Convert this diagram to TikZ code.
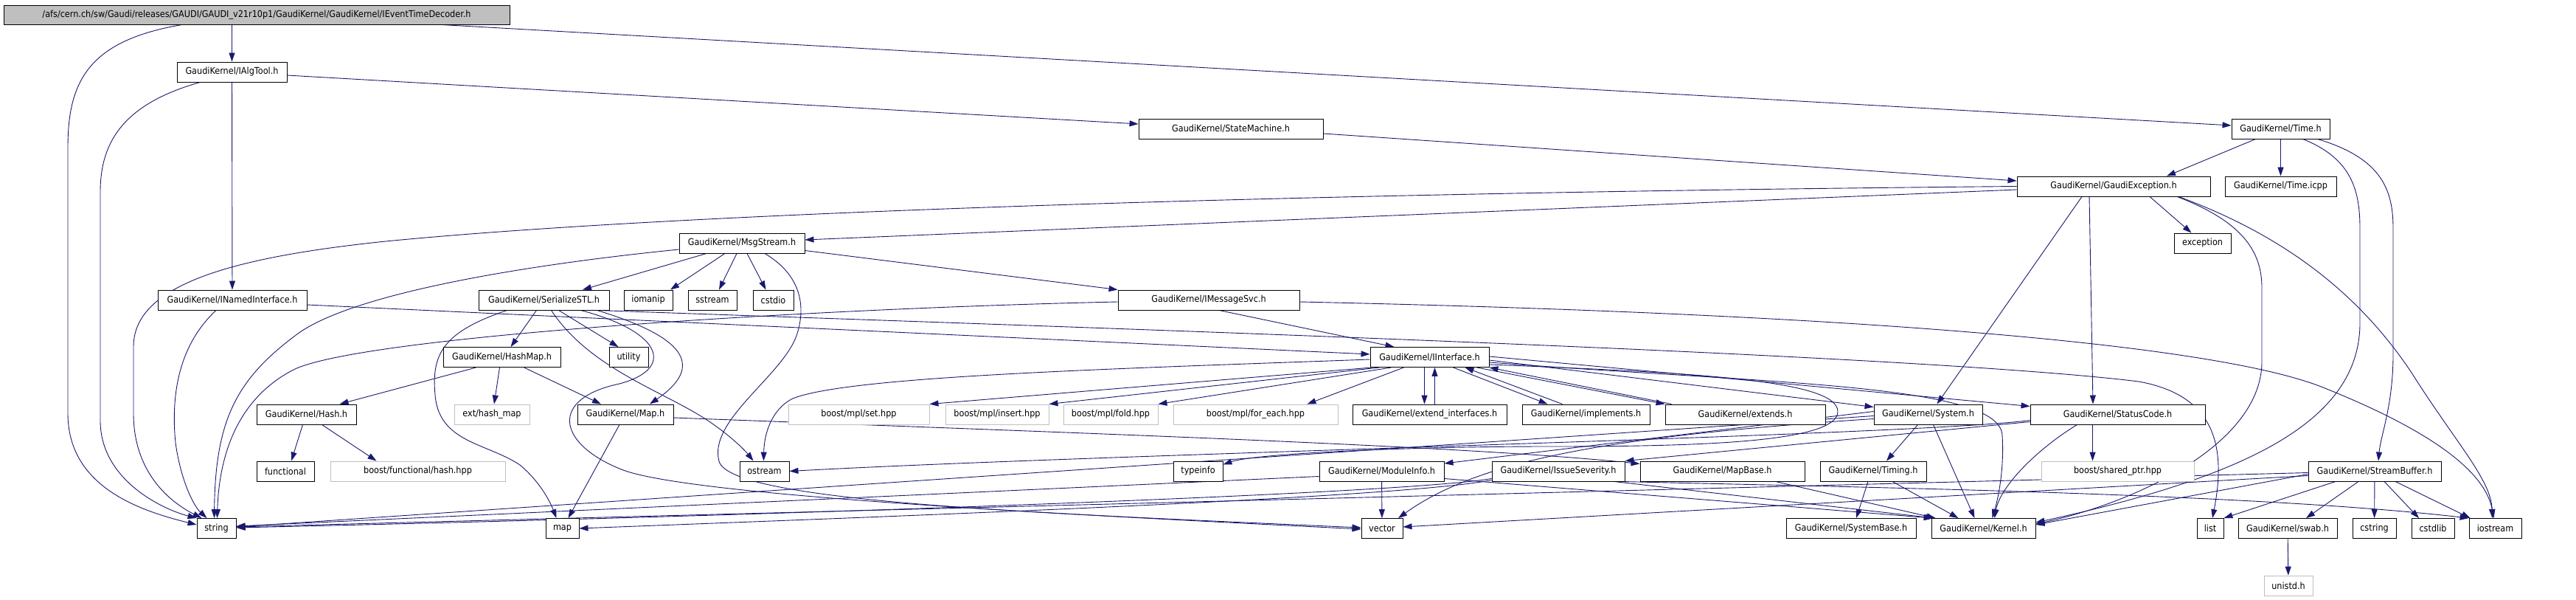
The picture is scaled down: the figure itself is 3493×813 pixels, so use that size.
\documentclass[tikz,border=0pt]{standalone}
\usepackage{fontspec}
\setmainfont[FakeStretch=0.9]{DejaVu Sans}
\usetikzlibrary{arrows.meta}
\definecolor{edgec}{HTML}{191970}
\definecolor{grayb}{HTML}{BFBFBF}
\pgfdeclarelayer{bg}
\pgfsetlayers{bg,main}
\begin{document}
\begin{tikzpicture}[x=1pt,y=-1pt,
 box/.style={draw=black, line width=0.9pt, fill=white, minimum height=27pt, inner sep=0pt, font=\fontsize{12.5}{14}\selectfont},
 gbox/.style={box, draw=grayb},
 e/.style={draw=edgec, line width=0.9pt, -{Triangle[length=12pt,width=8pt]}}]
\useasboundingbox (0,0) rectangle (3493,813);
% nodes
\node[box, fill=grayb, minimum width=686pt, minimum height=26pt] (root) at (348,20) {/afs/cern.ch/sw/Gaudi/releases/GAUDI/GAUDI\_v21r10p1/GaudiKernel/GaudiKernel/IEventTimeDecoder.h};
\node[box, minimum width=149pt] (ialg) at (314.5,97.5) {GaudiKernel/IAlgTool.h};
\node[box, minimum width=202pt] (inamed) at (315,406.5) {GaudiKernel/INamedInterface.h};
\node[box, minimum width=170pt] (msg) at (1006,329.5) {GaudiKernel/MsgStream.h};
\node[box, minimum width=177pt] (ser) at (737.5,406.5) {GaudiKernel/SerializeSTL.h};
\node[box, minimum width=66pt] (iomanip) at (879,406.5) {iomanip};
\node[box, minimum width=66pt] (sstream) at (966,406.5) {sstream};
\node[box, minimum width=55pt] (cstdio) at (1048.5,406.5) {cstdio};
\node[box, minimum width=250pt] (statem) at (1669,174.5) {GaudiKernel/StateMachine.h};
\node[box, minimum width=246pt] (imsg) at (1639,406.5) {GaudiKernel/IMessageSvc.h};
\node[box, minimum width=262pt] (gexc) at (2866,252.5) {GaudiKernel/GaudiException.h};
\node[box, minimum width=133pt] (time) at (3092.5,174.5) {GaudiKernel/Time.h};
\node[box, minimum width=151pt] (timeicpp) at (3092.5,252.5) {GaudiKernel/Time.icpp};
\node[box, minimum width=77pt] (exception) at (2986.5,329.5) {exception};
\node[box, minimum width=135pt] (hash) at (415.5,561.5) {GaudiKernel/Hash.h};
\node[box, minimum width=78pt] (functional) at (387,638.5) {functional};
\node[gbox, minimum width=237pt] (bfhash) at (566.5,638.5) {boost/functional/hash.hpp};
\node[box, minimum width=53pt] (string) at (293.5,716) {string};
\node[box, minimum width=159pt] (hashmap) at (680.5,484) {GaudiKernel/HashMap.h};
\node[box, minimum width=53pt] (utility) at (852.5,484) {utility};
\node[gbox, minimum width=102pt] (exthm) at (667,561.5) {ext/hash\_map};
\node[box, minimum width=130pt] (mapH) at (848,561.5) {GaudiKernel/Map.h};
\node[box, minimum width=67pt] (ostream) at (1036.5,638.5) {ostream};
\node[box, minimum width=45pt] (map) at (762.5,716) {map};
\node[gbox, minimum width=191pt] (mplset) at (1164.5,561.5) {boost/mpl/set.hpp};
\node[gbox, minimum width=140pt] (mplins) at (1352,561.5) {boost/mpl/insert.hpp};
\node[gbox, minimum width=128pt] (mplfold) at (1506,561.5) {boost/mpl/fold.hpp};
\node[gbox, minimum width=223pt] (mplfe) at (1702.5,561.5) {boost/mpl/for\_each.hpp};
\node[box, minimum width=67pt] (typeinfo) at (1624.5,638.5) {typeinfo};
\node[box, minimum width=161pt] (iint) at (1938.5,484) {GaudiKernel/IInterface.h};
\node[box, minimum width=209pt] (extint) at (1938.5,561.5) {GaudiKernel/extend\_interfaces.h};
\node[box, minimum width=173pt] (impl) at (2150.5,561.5) {GaudiKernel/implements.h};
\node[box, minimum width=217pt] (extends) at (2366.5,561.5) {GaudiKernel/extends.h};
\node[box, minimum width=169pt] (modinfo) at (1873.5,638.5) {GaudiKernel/ModuleInfo.h};
\node[box, minimum width=180pt] (issue) at (2113,638.5) {GaudiKernel/IssueSeverity.h};
\node[box, minimum width=223pt] (mapbase) at (2335.5,638.5) {GaudiKernel/MapBase.h};
\node[box, minimum width=56pt] (vector) at (1874,716) {vector};
\node[box, minimum width=147pt] (system) at (2614.5,561.5) {GaudiKernel/System.h};
\node[box, minimum width=237pt] (status) at (2871.5,561.5) {GaudiKernel/StatusCode.h};
\node[box, minimum width=144pt] (timing) at (2540,638.5) {GaudiKernel/Timing.h};
\node[gbox, minimum width=207pt] (bshared) at (2871.5,638.5) {boost/shared\_ptr.hpp};
\node[box, minimum width=176pt] (sysbase) at (2510,716) {GaudiKernel/SystemBase.h};
\node[box, minimum width=141pt] (kernel) at (2689.5,716) {GaudiKernel/Kernel.h};
\node[box, minimum width=180pt] (sbuf) at (3220,638.5) {GaudiKernel/StreamBuffer.h};
\node[box, minimum width=36pt] (list) at (2997,716) {list};
\node[box, minimum width=134pt] (swab) at (3102,716) {GaudiKernel/swab.h};
\node[box, minimum width=59pt] (cstring) at (3219.5,716) {cstring};
\node[box, minimum width=58pt] (cstdlib) at (3299,716) {cstdlib};
\node[box, minimum width=71pt] (iostream) at (3383.5,716) {iostream};
\node[gbox, minimum width=66pt] (unistd) at (3103,793.5) {unistd.h};
% edges
\begin{pgfonlayer}{bg}
% root
\draw[e] (root.south -| ialg) -- (ialg);
\draw[e] ([xshift=-101pt]root.south) .. controls (120,55) and (92,110) .. (92,200) -- (92,560) .. controls (92,660) and (190,692) .. ([yshift=5pt]string.west);
\draw[e] ([xshift=250pt]root.south) -- ([yshift=4.5pt]time.west);
% ialg
\draw[e] ([xshift=-43pt]ialg.south) .. controls (170,140) and (136,190) .. (136,260) -- (136,570) .. controls (136,650) and (220,690) .. (string.north west);
\draw[e] (ialg) -- (inamed);
\draw[e] ([yshift=-4.5pt]ialg.east) -- ([yshift=6.5pt]statem.west);
% statem
\draw[e] ([yshift=-6.5pt]statem.east) -- ([yshift=7.5pt]gexc.west);
% time
\draw[e] ([xshift=-34pt]time.south) -- ([xshift=72pt]gexc.north);
\draw[e] (time) -- (timeicpp);
\draw[e] ([xshift=30pt]time.south) .. controls (3190,215) and (3200,260) .. (3200,310) -- (3200,440) .. controls (3198,570) and (3050,645) .. ([yshift=8pt]kernel.east);
\draw[e] ([xshift=50pt]time.south) .. controls (3232,215) and (3245,260) .. (3245,310) -- (3245,480) .. controls (3245,550) and (3228,590) .. ([xshift=5pt]sbuf.north);
% gexc
\draw[e] ([xshift=49pt]gexc.south) -- ([xshift=-15pt]exception.north);
\draw[e] ([xshift=86pt]gexc.south) .. controls (3040,300) and (3067,340) .. (3067,390) -- (3067,490) .. controls (3067,600) and (2900,680) .. ([yshift=6pt]kernel.east);
\draw[e] ([xshift=88pt]gexc.south) .. controls (3100,320) and (3200,400) .. (3270,505) .. controls (3330,600) and (3378,650) .. ([xshift=-4pt]iostream.north);
\draw[e] ([xshift=-43pt]gexc.south) -- ([xshift=12pt]system.north);
\draw[e] ([xshift=-33pt]gexc.south) -- ([xshift=-33.5pt]status.north);
\draw[e] ([yshift=-4.5pt]gexc.west) -- ([yshift=4.5pt]msg.east);
\draw[e] (gexc.west) .. controls (1700,262) and (900,290) .. (523,327) .. controls (300,350) and (181,390) .. (181,470) -- (181,560) .. controls (181,640) and (230,680) .. ([xshift=-20pt]string.north);
% msg
\draw[e] ([xshift=-48pt]msg.south) -- ([xshift=52.5pt]ser.north);
\draw[e] ([xshift=-23pt]msg.south) -- ([xshift=30pt]iomanip.north);
\draw[e] ([xshift=-7pt]msg.south) -- ([xshift=9pt]sstream.north);
\draw[e] ([xshift=7pt]msg.south) -- ([xshift=-10pt]cstdio.north);
\draw[e] ([yshift=-10pt]msg.east) -- (imsg.north west);
\draw[e] ([xshift=31pt]msg.south) .. controls (1090,375) and (1092,420) .. (1080,455) .. controls (1060,510) and (960,570) .. (975,625) .. controls (990,680) and (1400,695) .. ([yshift=1pt]vector.west);
\draw[e] ([yshift=-8.5pt]msg.west) .. controls (700,360) and (470,400) .. (400,455) .. controls (320,515) and (292,570) .. ([xshift=-3pt]string.north);
% imsg
\draw[e] ([yshift=-2.5pt]imsg.west) .. controls (1100,418) and (500,455) .. (400,500) .. controls (320,540) and (297,620) .. ([xshift=1pt]string.north);
\draw[e] ([xshift=14pt]imsg.south) -- ([xshift=-48pt]iint.north);
\draw[e] ([yshift=-2.5pt]imsg.east) .. controls (2500,425) and (3000,465) .. (3150,525) .. controls (3300,585) and (3370,640) .. ([xshift=-2pt]iostream.north);
% inamed
\draw[e] ([xshift=-22pt]inamed.south) .. controls (240,470) and (232,540) .. (238,600) .. controls (245,650) and (262,685) .. ([xshift=-13pt]string.north);
\draw[e] ([yshift=-6.5pt]inamed.east) -- ([yshift=4pt]iint.west);
% ser
\draw[e] ([xshift=-10pt]ser.south) -- ([xshift=12pt]hashmap.north);
\draw[e] ([xshift=20pt]ser.south) -- ([xshift=-14pt]utility.north);
\draw[e] ([xshift=10pt]ser.south) .. controls (800,500) and (900,530) .. (960,570) .. controls (990,590) and (1010,610) .. ([xshift=-15pt]ostream.north);
\draw[e] ([xshift=72pt]ser.south) .. controls (940,460) and (950,500) .. ([xshift=33pt]mapH.north);
\draw[e] ([xshift=-50pt]ser.south) .. controls (600,450) and (585,480) .. (590,535) .. controls (595,600) and (660,600) .. (705,630) .. controls (735,655) and (748,685) .. ([xshift=-8pt]map.north);
\draw[e] ([xshift=50pt]ser.south) .. controls (900,450) and (915,500) .. (840,520) .. controls (745,540) and (755,600) .. (840,635) .. controls (920,670) and (1400,695) .. ([yshift=-1pt]vector.west);
\draw[e] ([xshift=72pt]ser.south) .. controls (1500,445) and (2600,480) .. (2900,517) .. controls (3000,535) and (3020,600) .. ([xshift=3pt]list.north);
% hashmap
\draw[e] ([xshift=-35pt]hashmap.south) -- ([xshift=45pt]hash.north);
\draw[e] ([xshift=-3pt]hashmap.south) -- ([xshift=3pt]exthm.north);
\draw[e] ([xshift=30pt]hashmap.south) -- ([xshift=-33pt]mapH.north);
% hash
\draw[e] ([xshift=-5pt]hash.south) -- ([xshift=8pt]functional.north);
\draw[e] ([xshift=21pt]hash.south) -- ([xshift=-56pt]bfhash.north);
% mapH
\draw[e] ([xshift=-8pt]mapH.south) -- ([xshift=8pt]map.north);
\draw[e] ([yshift=-4.5pt]mapH.east) .. controls (1500,588) and (2000,605) .. ([yshift=10pt]mapbase.west);
% iint
\draw[e] ([yshift=-3pt]iint.west) .. controls (1500,500) and (1150,510) .. (1075,540) .. controls (1045,555) and (1036,590) .. ([xshift=-1pt]ostream.north);
\draw[e] ([xshift=-78pt]iint.south) -- (mplset.north east);
\draw[e] ([xshift=-68pt]iint.south) -- (mplins.north east);
\draw[e] ([xshift=-52pt]iint.south) -- (mplfold.north east);
\draw[e] ([xshift=-35pt]iint.south) -- ([xshift=70pt]mplfe.north);
\draw[e] ([xshift=-7pt]iint.south) -- ([xshift=-7pt]extint.north);
\draw[e] ([xshift=7pt]extint.north) -- ([xshift=7pt]iint.south);
\draw[e] ([xshift=32pt]iint.south) -- ([xshift=-52pt]impl.north);
\draw[e] ([xshift=-32pt]impl.north) -- ([xshift=48pt]iint.south);
\draw[e] ([xshift=64pt]iint.south) -- (extends.north west);
\draw[e] ([xshift=-100pt]extends.north) -- (iint.south east);
\draw[e] ([yshift=-4pt]iint.east) -- ([yshift=10pt]system.west);
\draw[e] ([yshift=1pt]iint.east) -- ([yshift=11pt]status.west);
\draw[e] ([yshift=-7pt]iint.east) .. controls (2400,520) and (2712,520) .. (2715,590) .. controls (2718,640) and (2708,680) .. ([xshift=12pt]kernel.north);
\draw[e] ([yshift=-10pt]iint.east) .. controls (2300,505) and (2490,515) .. (2492,557) .. controls (2494,600) and (2300,605) .. (2100,605) .. controls (1900,605) and (1700,615) .. ([yshift=9pt]typeinfo.east);
% system
\draw[e] ([yshift=4pt]system.west) -- ([yshift=10.5pt]modinfo.east);
\draw[e] ([yshift=-2pt]system.west) -- ([yshift=2pt]string.east);
\draw[e] ([yshift=-6pt]system.west) .. controls (2200,590) and (2010,620) .. ([xshift=22pt]vector.north);
\draw[e] ([xshift=-14pt]system.south) -- ([xshift=18pt]timing.north);
\draw[e] ([xshift=7pt]system.south) -- ([xshift=-12pt]kernel.north);
% timing
\draw[e] ([xshift=-7pt]timing.south) -- ([xshift=7pt]sysbase.north);
\draw[e] ([xshift=26pt]timing.south) -- ([xshift=-34pt]kernel.north);
% mapbase
\draw[e] ([xshift=72pt]mapbase.south) -- ([xshift=-65pt]kernel.north);
% status
\draw[e] ([xshift=-55pt]status.south) .. controls (2760,610) and (2712,660) .. ([xshift=15pt]kernel.north);
\draw[e] ([xshift=-34pt]status.south) -- ([xshift=-34pt]bshared.north);
\draw[e] ([yshift=-10pt]status.west) -- (issue.north east);
\draw[e] ([yshift=-8pt]status.west) .. controls (2600,590) and (1500,615) .. (ostream.east);
% modinfo
\draw[e] (modinfo) -- (vector);
\draw[e] ([yshift=-7pt]modinfo.west) -- ([yshift=3pt]string.east);
\draw[e] ([yshift=-10pt]modinfo.east) -- ([xshift=2pt]kernel.north west);
% issue
\draw[e] ([xshift=-15pt]issue.south east) -- ([xshift=4pt]kernel.north west);
\draw[e] ([yshift=-10pt]issue.west) .. controls (1900,670) and (1000,700) .. ([yshift=1pt]string.east);
\draw[e] ([yshift=-12pt]issue.west) .. controls (1900,675) and (1200,700) .. (map.east);
\draw[e] ([xshift=-5pt]issue.south east) .. controls (2500,660) and (3050,668) .. (iostream.north west);
% sbuf
\draw[e] ([xshift=-53pt]sbuf.south) -- (list.north east);
\draw[e] ([xshift=-22pt]sbuf.south) -- ([xshift=25pt]swab.north);
\draw[e] (sbuf) -- (cstring);
\draw[e] ([xshift=13pt]sbuf.south) -- ([xshift=-19pt]cstdlib.north);
\draw[e] ([xshift=28pt]sbuf.south) -- ([xshift=2pt]iostream.north west);
\draw[e] ([yshift=-4pt]sbuf.west) -- ([yshift=5pt]kernel.east);
\draw[e] ([yshift=-2pt]sbuf.west) -- ([yshift=2pt]string.east);
\draw[e] ([yshift=-6pt]sbuf.west) -- ([yshift=2pt]vector.east);
% swab
\draw[e] (swab) -- (unistd);
\end{pgfonlayer}
\end{tikzpicture}
\end{document}
